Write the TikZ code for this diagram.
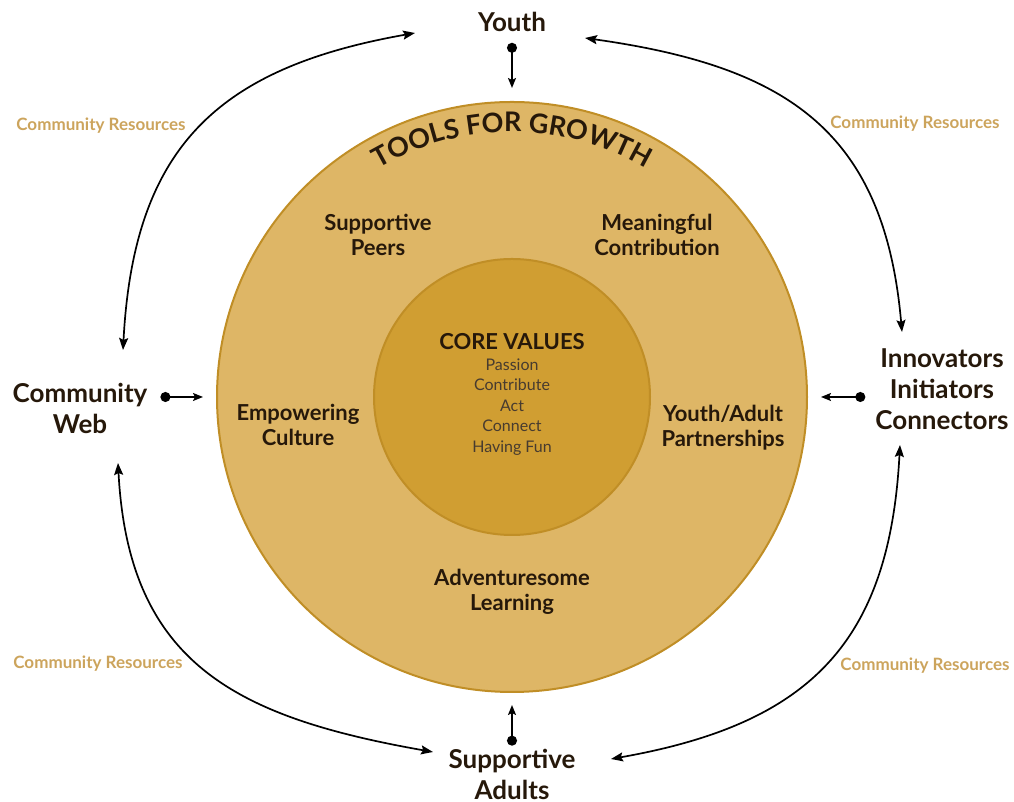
\documentclass[tikz,border=0pt]{standalone}
\usepackage{fontspec}
\setmainfont{Lato}
\usetikzlibrary{arrows.meta, decorations.text}

\definecolor{outerfill}{RGB}{222,182,102}
\definecolor{innerfill}{RGB}{208,158,50}
\definecolor{rimcol}{RGB}{192,142,38}
\definecolor{rescol}{RGB}{204,164,92}
\definecolor{inkcol}{RGB}{38,24,10}

\begin{document}
\begin{tikzpicture}[x=0.5pt, y=0.5pt,
    ring/.style={line width=1pt, draw=rimcol},
    actor/.style={font=\bfseries\fontsize{13}{15.5}\selectfont, align=center, text=inkcol},
    tool/.style={font=\bfseries\fontsize{11}{12.5}\selectfont, align=center, text=inkcol},
    core/.style={font=\bfseries\fontsize{11}{12}\selectfont, text=inkcol},
    values/.style={font=\fontsize{8}{10.25}\selectfont, align=center, text=inkcol!85},
    resource/.style={font=\bfseries\fontsize{8.5}{10}\selectfont, text=rescol},
    twoway/.style={{Stealth[length=6pt,width=4.5pt,inset=1pt]}-{Stealth[length=6pt,width=4.5pt,inset=1pt]}, line width=0.85pt},
    pin/.style={{Circle[length=5pt]}-{Stealth[length=5pt,width=4pt,inset=1pt]}, line width=0.85pt}]
    \pgfmathsetmacro{\rout}{295}
    \pgfmathsetmacro{\rin}{138}
    \useasboundingbox (0,0) rectangle (1014,802);

    \coordinate (c) at (512,405);
    \draw[ring, fill=outerfill] (c) circle[radius=\rout];
    \draw[ring, fill=innerfill] (c) circle[radius=\rin];
    \path[decorate, decoration={text along path, text align=center, text color=inkcol,
        text={|\bfseries\fontsize{13.5}{13.5}\selectfont|TOOLS FOR GROWTH}}]
        ([shift={(150:265)}]c) arc[start angle=150, end angle=30, radius=265];

    \node[core] (core) at (512,460) {CORE VALUES};
    \node[values] (vals) at (512,395) {Passion\\Contribute\\Act\\Connect\\Having Fun};

    \node[tool] (peers) at (378,567) {Supportive\\Peers};
    \node[tool] (contrib) at (657,567) {Meaningful\\Contribution};
    \node[tool] (culture) at (298,377) {Empowering\\Culture};
    \node[tool] (partner) at (723,374) {Youth/Adult\\Partnerships};
    \node[tool] (learning) at (512,210) {Adventuresome\\Learning};

    \node[actor] (youth) at (512,780) {Youth};
    \node[actor] (web) at (80,394) {Community\\Web};
    \node[actor] (innov) at (942,413) {Innovators\\Initiators\\Connectors};
    \node[actor] (adults) at (512,28) {Supportive\\Adults};

    \foreach \x/\y [count=\i] in {101/676, 915/678, 98/138, 925/136}
        \node[resource] (res\i) at (\x,\y) {Community Resources};

    % where the short links meet the ring
    \coordinate (ringN) at ([shift={(90:\rout)}]c);
    \coordinate (ringS) at ([shift={(-90:\rout)}]c);
    \coordinate (ringW) at ([shift={(180:\rout)}]c);
    \coordinate (ringE) at ([shift={(0:\rout)}]c);

    \draw[pin, shorten <=2pt, shorten >=7pt] (youth.south) -- (ringN);
    \draw[pin, shorten <=-2pt, shorten >=6.5pt] (adults.north) -- (ringS);
    \draw[pin, shorten <=3pt, shorten >=7pt] (web.east |- ringW) -- (ringW);
    \draw[pin, shorten <=1.5pt, shorten >=7pt] (innov.west |- ringE) -- (ringE);

    % the outer loop
    \coordinate (tl-a) at (123,452);
    \coordinate (tl-b) at (415,769);
    \coordinate (tr-a) at (585,764);
    \coordinate (tr-b) at (902,470);
    \coordinate (bl-a) at (118,339);
    \coordinate (bl-b) at (433,50);
    \coordinate (br-a) at (900,357);
    \coordinate (br-b) at (611,43);
    \draw[twoway] (tl-a) to[out=87, in=190, looseness=1.2] (tl-b);
    \draw[twoway] (tr-a) to[out=-8, in=95, looseness=1.2] (tr-b);
    \draw[twoway] (bl-a) to[out=-87, in=170, looseness=1.2] (bl-b);
    \draw[twoway] (br-a) to[out=-93, in=10, looseness=1.2] (br-b);
\end{tikzpicture}
\end{document}
